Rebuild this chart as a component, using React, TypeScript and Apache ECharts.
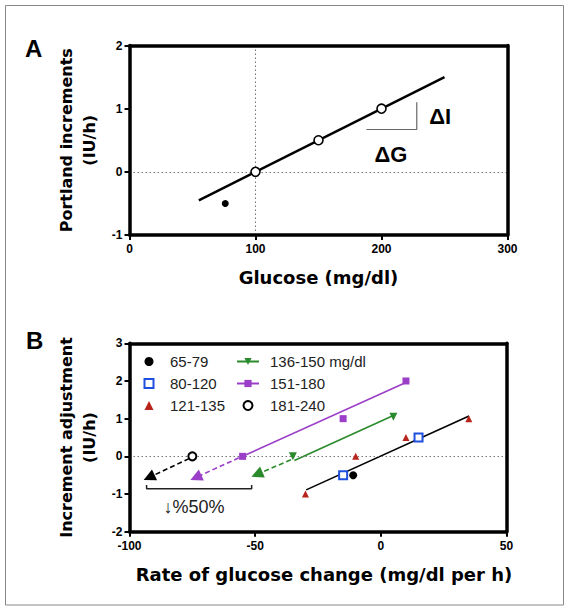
import React, { useEffect, useRef } from 'react';
import * as echarts from 'echarts';

// ---------- Panel A data ----------
const aXTicks = [0, 300, 100]; // min, max, interval
const aYTicks = [-1, 2, 1];
const aFitLine = [[55, -0.45], [250, 1.5]];
const aOpenPoints = [[100, 0], [150, 0.5], [200, 1]];
const aFilledPoint = [[76, -0.5]];
const aSlopeMarker = [[188, 0.67], [228, 0.67], [228, 1.1]];
const aDeltaI = [237.5, 0.88];
const aDeltaG = [194, 0.27];

// ---------- Panel B data ----------
const bXTicks = [-100, 50, 50];
const bYTicks = [-2, 3, 1];
const bNames = ['65-79', '80-120', '121-135', '136-150 mg/dl', '151-180', '181-240'];
const b6579 = [[-11, -0.5]];
const b80120 = [[-15, -0.5], [15, 0.5]];
const b121135 = [[-30, -1], [-10, 0], [10, 0.5], [35, 1]];
const b136150 = [[-35, 0], [5, 1.05]];
const b151180 = [[-55, 0], [-15, 1], [10, 2]];
const b181240 = [[-75, 0]];
const bFitBlack = [[-29.7, -0.89], [35.1, 1.07]];
const bFitGreen = [[-34.4, -0.11], [5.2, 1.09]];
const bFitPurple = [[-55, 0], [9.3, 1.94]];
const bArrowBlack = [[-76.3, -0.06], [-92.2, -0.56]];
const bArrowPurple = [[-56.5, -0.04], [-73.6, -0.56]];
const bArrowGreen = [[-35.8, -0.09], [-49.3, -0.48]];
const bBracket = [[-93.2, -0.76], [-93.2, -0.86], [-51.4, -0.86], [-51.4, -0.76]];
const bBracketText = [-86.7, -1.35];

const RED = '#b8241b';
const BLUE = '#1f4fe0';
const GREEN = '#2b8a2b';
const PURPLE = '#9b3ec8';

const SANS = 'Liberation Sans, Arial, Helvetica, sans-serif';
const TITLE = 'DejaVu Sans, Verdana, sans-serif';

function axisCommon() {
  return {
    type: 'value' as const,
    axisLine: { show: true, onZero: false, lineStyle: { color: '#000', width: 3.5, opacity: 1 } },
    axisTick: { show: true, length: 5, lineStyle: { color: '#000', width: 2 } },
    splitLine: { show: false },
    splitArea: { show: false },
    axisLabel: { fontFamily: SANS, fontWeight: 'bold' as const, fontSize: 12, color: '#000' },
    z: 10,
  };
}

// frame-only axes (top / right edges of each box)
function frameAxis(gridIndex: number, position: string, ticks: number[]) {
  return {
    type: 'value' as const, gridIndex, position, min: ticks[0], max: ticks[1], interval: ticks[2],
    axisLine: { show: true, onZero: false, lineStyle: { color: '#000', width: 3.5 } },
    axisTick: { show: false }, axisLabel: { show: false }, splitLine: { show: false }, splitArea: { show: false },
    z: 10,
  };
}

const dotted = { type: [1.5, 2.5], color: '#777', width: 1, opacity: 1 };

export default function App() {
  const ref = useRef<HTMLDivElement>(null);
  useEffect(() => {
    if (!ref.current) return;
    const chart = echarts.init(ref.current, undefined, { renderer: 'svg' });
    const c = axisCommon();
    const option: any = {
      animation: false,
      textStyle: { fontFamily: SANS },
      grid: [
        { left: 129.5, top: 45.5, width: 378, height: 189.5, show: false },
        { left: 129.5, top: 343.3, width: 377, height: 188.4, show: false },
      ],
      xAxis: [
        {
          ...c, gridIndex: 0, position: 'bottom', min: aXTicks[0], max: aXTicks[1], interval: aXTicks[2],
          axisLabel: { ...c.axisLabel, margin: 8 },
          name: 'Glucose (mg/dl)', nameLocation: 'middle', nameGap: 32,
          nameTextStyle: { fontFamily: TITLE, fontWeight: 'bold', fontSize: 18, lineHeight: 20, color: '#000' },
        },
        {
          ...c, gridIndex: 1, position: 'bottom', min: bXTicks[0], max: bXTicks[1], interval: bXTicks[2],
          axisLabel: { ...c.axisLabel, margin: 8 },
          name: 'Rate of glucose change (mg/dl per h)', nameLocation: 'middle', nameGap: 33,
          nameTextStyle: { fontFamily: TITLE, fontWeight: 'bold', fontSize: 18, lineHeight: 20, color: '#000', padding: [0, 0, 0, 12] },
        },
        frameAxis(0, 'top', aXTicks),
        frameAxis(1, 'top', bXTicks),
      ],
      yAxis: [
        {
          ...c, gridIndex: 0, position: 'left', min: aYTicks[0], max: aYTicks[1], interval: aYTicks[2],
          axisLabel: { ...c.axisLabel, margin: 7 },
          name: 'Portland increments\n(IU/h)', nameLocation: 'middle', nameRotate: 90, nameGap: 22,
          nameTextStyle: { fontFamily: TITLE, fontWeight: 'bold', fontSize: 16, lineHeight: 23, color: '#000' },
        },
        {
          ...c, gridIndex: 1, position: 'left', min: bYTicks[0], max: bYTicks[1], interval: bYTicks[2],
          axisLabel: { ...c.axisLabel, margin: 7 },
          name: 'Increment adjustment\n(IU/h)', nameLocation: 'middle', nameRotate: 90, nameGap: 24,
          nameTextStyle: { fontFamily: TITLE, fontWeight: 'bold', fontSize: 16, lineHeight: 23, color: '#000' },
        },
        frameAxis(0, 'right', aYTicks),
        frameAxis(1, 'right', bYTicks),
      ],
      legend: [
        {
          data: bNames.slice(0, 3), orient: 'vertical', left: 138.5, top: 349,
          itemWidth: 9, itemHeight: 9, itemGap: 7,
          textStyle: { fontFamily: SANS, fontSize: 15, lineHeight: 15, color: '#222', padding: [0, 0, 0, 11.5] },
          selectedMode: false,
        },
        {
          data: bNames.slice(3), orient: 'vertical', left: 231, top: 349,
          itemWidth: 22, itemHeight: 9, itemGap: 7,
          textStyle: { fontFamily: SANS, fontSize: 15, lineHeight: 15, color: '#222', padding: [0, 0, 0, 6] },
          selectedMode: false,
        },
      ],
      series: [
        // ----- Panel A -----
        {
          type: 'line', xAxisIndex: 0, yAxisIndex: 0, data: aFitLine, showSymbol: false, symbol: 'none',
          lineStyle: { color: '#000', width: 2.5 }, z: 3,
          markLine: {
            silent: true, symbol: ['none', 'none'], label: { show: false },
            lineStyle: dotted, data: [{ xAxis: 100 }, { yAxis: 0 }],
          },
        },
        {
          type: 'line', xAxisIndex: 0, yAxisIndex: 0, data: aSlopeMarker, showSymbol: false, symbol: 'none',
          lineStyle: { color: '#666', width: 1.2 },
        },
        {
          type: 'scatter', xAxisIndex: 0, yAxisIndex: 0, data: aOpenPoints, symbol: 'circle', symbolSize: 9,
          itemStyle: { color: '#fff', borderColor: '#000', borderWidth: 1.6, opacity: 1 }, z: 5,
        },
        {
          type: 'scatter', xAxisIndex: 0, yAxisIndex: 0, data: aFilledPoint, symbol: 'circle', symbolSize: 7,
          itemStyle: { color: '#000', opacity: 1 }, z: 5,
        },
        {
          type: 'scatter', xAxisIndex: 0, yAxisIndex: 0, symbolSize: 1, itemStyle: { color: 'rgba(0,0,0,0)', opacity: 1 },
          data: [
            { value: aDeltaI, label: { formatter: 'ΔI' } },
            { value: aDeltaG, label: { formatter: 'ΔG' } },
          ],
          label: { show: true, position: 'right', distance: 0, fontFamily: SANS, fontWeight: 'bold', fontSize: 22, color: '#000', opacity: 1 },
          silent: true,
        },
        // ----- Panel B -----
        {
          name: bNames[3], type: 'line', xAxisIndex: 1, yAxisIndex: 1, data: bFitGreen, showSymbol: false,
          symbol: 'triangle', symbolRotate: 180, color: GREEN, lineStyle: { color: GREEN, width: 1.6 }, itemStyle: { color: GREEN },
          markLine: {
            silent: true, symbol: ['none', 'none'], label: { show: false },
            lineStyle: dotted, data: [{ yAxis: 0 }],
          },
        },
        {
          name: bNames[4], type: 'line', xAxisIndex: 1, yAxisIndex: 1, data: bFitPurple, showSymbol: false,
          symbol: 'rect', color: PURPLE, lineStyle: { color: PURPLE, width: 1.6 }, itemStyle: { color: PURPLE },
        },
        {
          type: 'line', xAxisIndex: 1, yAxisIndex: 1, data: bFitBlack, showSymbol: false, symbol: 'none',
          lineStyle: { color: '#000', width: 1.6 },
        },
        {
          type: 'lines', coordinateSystem: 'cartesian2d', xAxisIndex: 1, yAxisIndex: 1,
          symbol: ['none', 'triangle'], symbolSize: [8, 12],
          data: [
            { coords: bArrowBlack, lineStyle: { color: '#000' } },
            { coords: bArrowPurple, lineStyle: { color: PURPLE } },
            { coords: bArrowGreen, lineStyle: { color: GREEN } },
          ],
          lineStyle: { width: 1.6, type: [5, 3], opacity: 1 },
          z: 4,
        },
        {
          type: 'line', xAxisIndex: 1, yAxisIndex: 1, data: bBracket, showSymbol: false, symbol: 'none',
          lineStyle: { color: '#222', width: 1.5 },
        },
        {
          type: 'scatter', xAxisIndex: 1, yAxisIndex: 1, symbolSize: 1, itemStyle: { color: 'rgba(0,0,0,0)', opacity: 1 },
          data: [{ value: bBracketText }],
          label: { show: true, position: 'right', distance: 0, formatter: '↓%50%', fontFamily: SANS, fontSize: 18, color: '#222', opacity: 1 },
          silent: true,
        },
        {
          name: bNames[0], type: 'scatter', xAxisIndex: 1, yAxisIndex: 1, data: b6579, symbol: 'circle', symbolSize: 8,
          itemStyle: { color: '#000', opacity: 1 }, z: 5,
        },
        {
          name: bNames[1], type: 'scatter', xAxisIndex: 1, yAxisIndex: 1, data: b80120, symbol: 'rect', symbolSize: 8,
          itemStyle: { color: '#fff', borderColor: BLUE, borderWidth: 2, opacity: 1 }, z: 5,
        },
        {
          name: bNames[2], type: 'scatter', xAxisIndex: 1, yAxisIndex: 1, data: b121135, symbol: 'triangle', symbolSize: 7,
          itemStyle: { color: RED, opacity: 1 }, z: 5,
        },
        {
          name: bNames[3], type: 'scatter', xAxisIndex: 1, yAxisIndex: 1, data: b136150, symbol: 'triangle', symbolRotate: 180,
          symbolSize: 8, itemStyle: { color: GREEN, opacity: 1 }, z: 5,
        },
        {
          name: bNames[4], type: 'scatter', xAxisIndex: 1, yAxisIndex: 1, data: b151180, symbol: 'rect', symbolSize: 7,
          itemStyle: { color: PURPLE, opacity: 1 }, z: 5,
        },
        {
          name: bNames[5], type: 'scatter', xAxisIndex: 1, yAxisIndex: 1, data: b181240, symbol: 'circle', symbolSize: 8,
          itemStyle: { color: '#fff', borderColor: '#000', borderWidth: 2, opacity: 1 }, z: 5,
        },
      ],
      graphic: [
        { type: 'rect', shape: { x: 5.5, y: 5.5, width: 558, height: 599.5 }, style: { fill: 'none', stroke: '#888', lineWidth: 1 }, silent: true },
        { type: 'text', x: 25, y: 48, style: { text: 'A', fontFamily: SANS, fontWeight: 'bold', fontSize: 24, fill: '#000', verticalAlign: 'middle' } },
        { type: 'text', x: 26, y: 340, style: { text: 'B', fontFamily: SANS, fontWeight: 'bold', fontSize: 24, fill: '#000', verticalAlign: 'middle' } },
      ],
    };
    chart.setOption(option);
    return () => chart.dispose();
  }, []);
  return <div ref={ref} style={{ position: 'absolute', left: 0, top: 0, width: 570, height: 610, background: '#fff' }} />;
}
